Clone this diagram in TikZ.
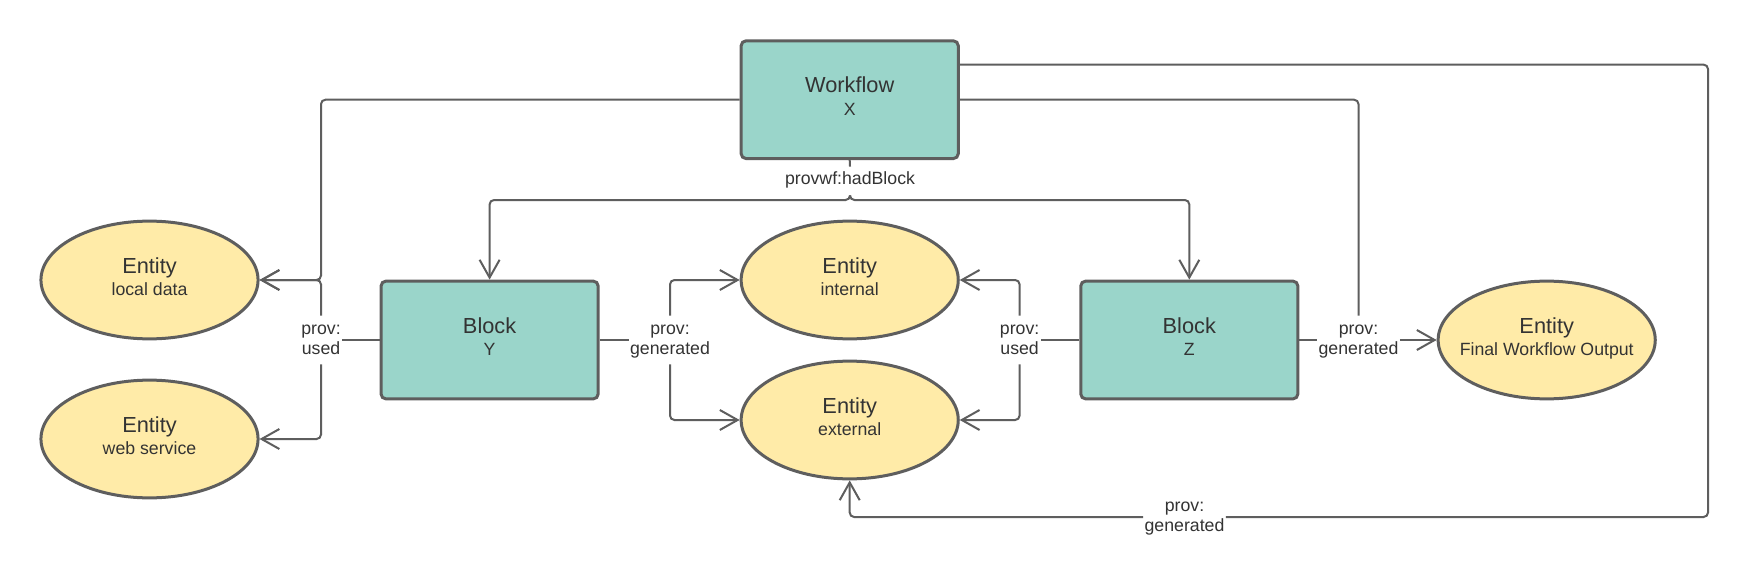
\documentclass[tikz,border=0pt]{standalone}
\usepackage{fontspec}
\setmainfont{Liberation Sans}
\usepackage{tikz}
\usetikzlibrary{arrows.meta, shapes.geometric}

\definecolor{blockteal}{HTML}{9AD5CA}
\definecolor{entityyellow}{HTML}{FFEBA8}
\definecolor{edgegray}{HTML}{5E5E5E}
\definecolor{textgray}{HTML}{333333}

\newcommand{\bigtxt}{\fontsize{9.8pt}{10.3pt}\selectfont}
\newcommand{\smalltxt}{\fontsize{7.97pt}{10.3pt}\selectfont}
\newcommand{\reltxt}{\fontsize{7.97pt}{9pt}\selectfont}

\begin{document}
\begin{tikzpicture}[x=0.45pt, y=-0.45pt,
  block/.style={draw=edgegray, line width=1.35pt, fill=blockteal, rounded corners=2.2pt,
    minimum width=97.7pt, minimum height=53pt, inner sep=0pt, align=center,
    text=textgray, font=\smalltxt},
  entity/.style={ellipse, draw=edgegray, line width=1.35pt, fill=entityyellow,
    minimum width=97.7pt, minimum height=53pt, inner sep=0pt, align=center,
    text=textgray, font=\smalltxt},
  rel/.style={align=center, text=textgray, font=\reltxt, inner xsep=0.5pt, inner ysep=1.8pt},
  line/.style={draw=edgegray, line width=0.9pt, rounded corners=2pt},
  arr/.style={line, -{Straight Barb[length=8pt, width=9pt]}}]
\path[fill=white] (0,0) rectangle (1751,581);
\useasboundingbox (0,0) rectangle (1751,581);

\node[block] (wf) at (849.7,99.7) {{\bigtxt Workflow}\\\strut X};
\node[block] (bY) at (489.6,340) {{\bigtxt Block}\\\strut Y};
\node[block] (bZ) at (1189.3,340) {{\bigtxt Block}\\\strut Z};

\node[entity] (eLocal) at (149.5,280) {{\bigtxt Entity}\\\strut local data};
\node[entity] (eWeb) at (149.5,439) {{\bigtxt Entity}\\\strut web service};
\node[entity] (eInt) at (849.7,280) {{\bigtxt Entity}\\\strut internal};
\node[entity] (eExt) at (849.7,420) {{\bigtxt Entity}\\\strut external};
\node[entity, inner xsep=-9pt] (eFinal) at (1546.7,340) {{\bigtxt Entity}\\\strut Final Workflow Output};

\node[rel] (lHad) at (850,181) {\strut provwf:hadBlock};
\node[rel] (lUsedY) at (321,340) {\strut prov:\\\strut used};
\node[rel] (lGenY) at (670,340) {\strut prov:\\\strut generated};
\node[rel] (lUsedZ) at (1019.6,340) {\strut prov:\\\strut used};
\node[rel] (lGenZ) at (1358.5,340) {\strut prov:\\\strut generated};
\node[rel] (lBot) at (1184.5,517) {\strut prov:\\\strut generated};

\coordinate (jHad) at (850,200);
\coordinate (cTR) at (1708,64.6);

\draw[line] (wf.south) -- (lHad.north);
\draw[arr] (lHad.south) -- (jHad) -| (bY.north);
\draw[arr] (lHad.south) -- (jHad) -| (bZ.north);

\draw[arr] (wf.west) -| (lUsedY.north |- eLocal.east) -- (eLocal.east);
\draw[line] (bY.west) -- (lUsedY.east);
\draw[arr] (lUsedY.north) |- (eLocal.east);
\draw[arr] (lUsedY.south) |- (eWeb.east);

\draw[line] (bY.east) -- (lGenY.west);
\draw[arr] (lGenY.north) |- (eInt.west);
\draw[arr] (lGenY.south) |- (eExt.west);

\draw[line] (bZ.west) -- (lUsedZ.east);
\draw[arr] (lUsedZ.north) |- (eInt.east);
\draw[arr] (lUsedZ.south) |- (eExt.east);

\draw[line] (bZ.east) -- (lGenZ.west);
\draw[arr] (lGenZ.east) -- (eFinal.west);
\draw[line] (wf.east) -| (lGenZ.north);

\draw[line] (wf.east |- cTR) -- (cTR) |- (lBot.east);
\draw[arr] (lBot.west) -| (eExt.south);
\end{tikzpicture}
\end{document}
